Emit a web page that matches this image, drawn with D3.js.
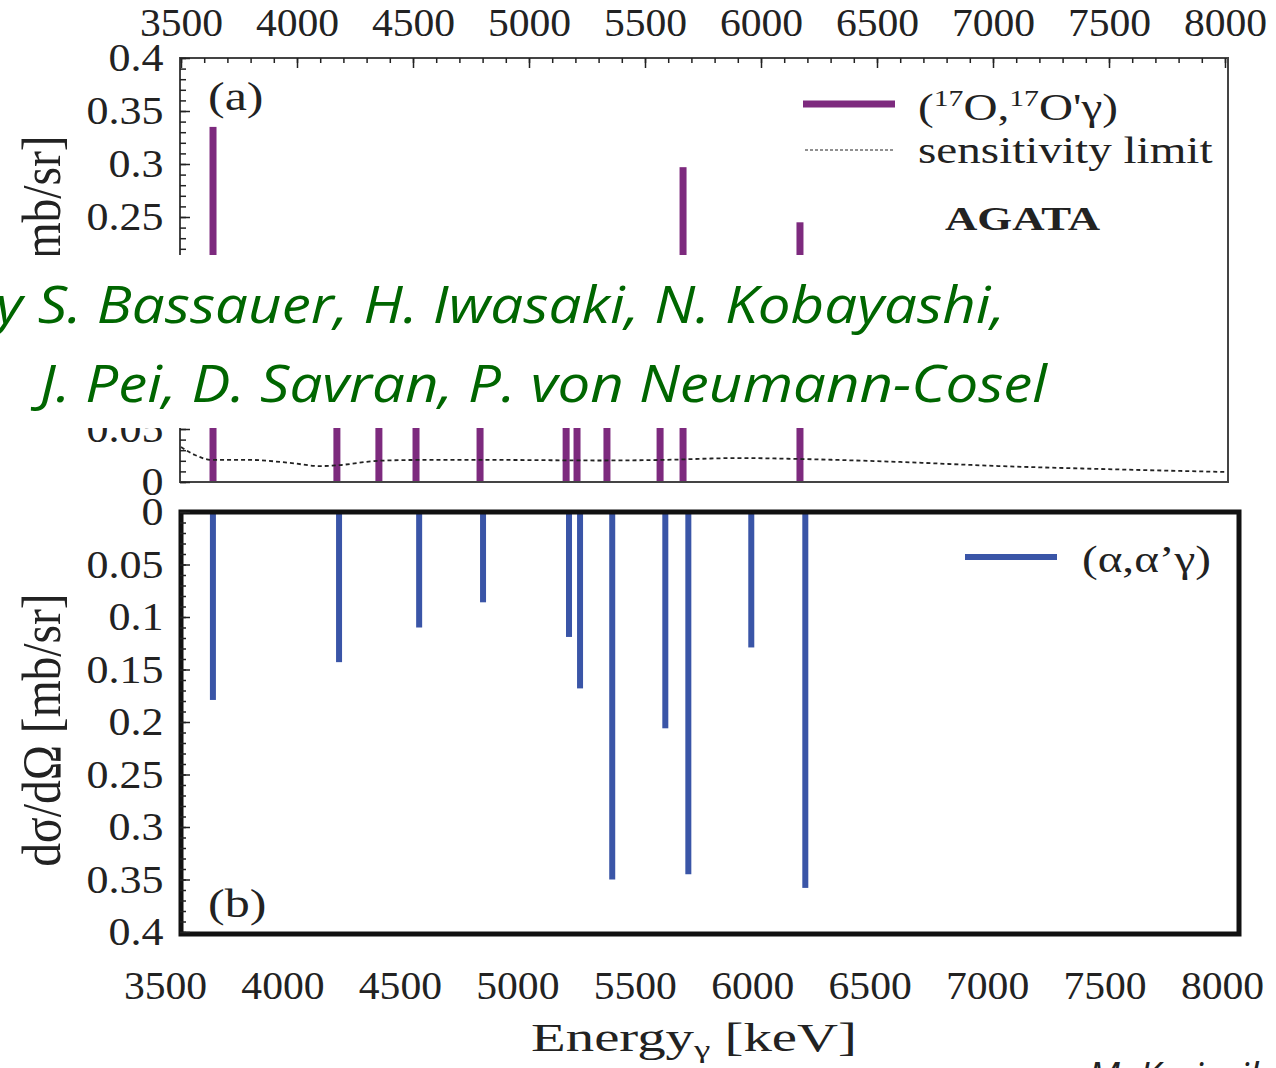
<!DOCTYPE html>
<html>
<head>
<meta charset="utf-8">
<script src="https://cdn.jsdelivr.net/npm/d3@7"></script>
<style>
body{margin:0;background:#fff}
svg{display:block}
.serif{font-family:"Liberation Serif","DejaVu Serif",serif;fill:#222}
.tick text{font-family:"Liberation Serif","DejaVu Serif",serif;fill:#222}
.green{font-family:"Open Sans",Lato,sans-serif;font-style:italic;fill:#006600}
</style>
</head>
<body>
<div id="chart"></div>
<script>
// (17O,17O'g) lines, energies (keV) and cross sections (mb/sr)
const energyTop=[3638,4172,4353,4513,4789,5160,5207,5336,5565,5664,6168]
const sigmaTop=[0.335,0.12,0.10,0.09,0.15,0.08,0.11,0.07,0.13,0.297,0.245]
// sensitivity limit of AGATA
const sensEnergy=[3500,3560,3634,3800,3970,4100,4185,4350,4530,4875,5306,5565,5910,6168,6600,7030,7460,8013]
const sensValue=[0.033,0.0255,0.0208,0.0208,0.018,0.015,0.016,0.020,0.0208,0.0208,0.0203,0.0208,0.0226,0.0217,0.0189,0.015,0.0123,0.0094]
// (a,a'g) lines, energies
const energyBot=[3704,4241,4582,4854,5220,5267,5404,5630,5728,5996,6226]
const sigmaBot=[0.179,0.143,0.110,0.086,0.119,0.168,0.350,0.206,0.345,0.129,0.358]
// ticks
const xTicks=[3500,4000,4500,5000,5500,6000,6500,7000,7500,8000]
const yTicks=[0,0.05,0.1,0.15,0.2,0.25,0.3,0.35,0.4]

const width=1276, height=1068
const purple='#7d2a7e', blue='#3a55a7'

var svg=d3.select('#chart').append('svg').attr('width',width).attr('height',height)

//scales for both panels
let xTop=d3.scaleLinear().domain([3500,8000]).range([181,1225])
let yTop=d3.scaleLinear().domain([0,0.4]).range([482,58])
let xBot=d3.scaleLinear().domain([3500,8000]).range([165,1222])
let yBot=d3.scaleLinear().domain([0,0.4]).range([512,932])

const fmtY=d=>String(+d.toFixed(2))
const fmtX=d3.format('d')

//text that is a bit wider than the font, like in the scanned figure
function wideText(x,y,size,sx){
  return svg.append('g').attr('transform','translate('+x+','+y+') scale('+sx+',1)')
    .append('text').attr('class','serif').attr('font-size',size)
}

/* ---------- panel (a) ---------- */
let panelA=svg.append('g')
panelA.selectAll('rect.bar').data(energyTop).enter().append('rect').attr('class','bar')
  .attr('x',d=>xTop(d)-3.5).attr('width',7)
  .attr('y',(d,i)=>yTop(sigmaTop[i])).attr('height',(d,i)=>yTop(0)-yTop(sigmaTop[i]))
  .attr('fill',purple)

let sensLine=d3.line().x((d,i)=>xTop(d)).y((d,i)=>yTop(sensValue[i])).curve(d3.curveMonotoneX)
panelA.append('path').attr('d',sensLine(sensEnergy)).attr('fill','none')
  .attr('stroke','#222').attr('stroke-width',1.8).attr('stroke-dasharray','4,3')

panelA.append('rect').attr('x',180).attr('y',58).attr('width',1048).attr('height',424)
  .attr('fill','none').attr('stroke','#444').attr('stroke-width',2)

//minor and major ticks, pointing inside
panelA.append('g').attr('transform','translate(0,58)')
  .call(d3.axisTop(xTop).tickValues(d3.range(3500,8001,100)).tickSize(-5).tickFormat(''))
panelA.append('g').attr('class','xlab').attr('transform','translate(0,58)')
  .call(d3.axisTop(xTop).tickValues(xTicks).tickSizeInner(-10).tickSizeOuter(0).tickPadding(22).tickFormat(fmtX))
panelA.append('g').attr('transform','translate(180,0)')
  .call(d3.axisLeft(yTop).tickValues(d3.range(0,0.401,0.01)).tickSize(-6).tickFormat(''))
panelA.append('g').attr('class','ylab').attr('transform','translate(180,0)')
  .call(d3.axisLeft(yTop).tickValues(yTicks).tickSizeInner(-10).tickSizeOuter(0).tickPadding(15).tickFormat(fmtY))

/* ---------- panel (b) ---------- */
let panelB=svg.append('g')
panelB.selectAll('rect.bar').data(energyBot).enter().append('rect').attr('class','bar')
  .attr('x',d=>xBot(d)-3).attr('width',6)
  .attr('y',yBot(0)).attr('height',(d,i)=>yBot(sigmaBot[i])-yBot(0))
  .attr('fill',blue)

panelB.append('rect').attr('x',181).attr('y',512).attr('width',1058).attr('height',422)
  .attr('fill','none').attr('stroke','#111').attr('stroke-width',5)

panelB.append('g').attr('transform','translate(180,0)')
  .call(d3.axisLeft(yBot).tickValues(d3.range(0,0.401,0.01)).tickSize(-6).tickFormat(''))
panelB.append('g').attr('class','ylab').attr('transform','translate(180,0)')
  .call(d3.axisLeft(yBot).tickValues(yTicks).tickSizeInner(-10).tickSizeOuter(0).tickPadding(15).tickFormat(fmtY))
panelB.append('g').attr('class','xlab').attr('transform','translate(0,935)')
  .call(d3.axisBottom(xBot).tickValues(xTicks).tickSize(0).tickPadding(36).tickFormat(fmtX))

svg.selectAll('.domain').remove()
svg.selectAll('.tick line').attr('stroke','#222').attr('stroke-width',1.5)
svg.selectAll('.tick text').attr('font-size',40)
svg.selectAll('.xlab .tick text').attr('transform','scale(1.04,1)')
svg.selectAll('.ylab .tick text').attr('transform','scale(1.1,1)')

/* ---------- labels and legends ---------- */
wideText(208,110,40,1.25).text('(a)')
wideText(208,917,40,1.25).text('(b)')

svg.append('line').attr('x1',803).attr('x2',895).attr('y1',104).attr('y2',104)
  .attr('stroke',purple).attr('stroke-width',7)
let lg=wideText(918,120,38,1.24)
lg.append('tspan').text('(')
lg.append('tspan').attr('font-size',24).attr('dy',-14).text('17')
lg.append('tspan').attr('dy',14).text('O,')
lg.append('tspan').attr('font-size',24).attr('dy',-14).text('17')
lg.append('tspan').attr('dy',14).text("O'γ)")

svg.append('line').attr('x1',805).attr('x2',893).attr('y1',150).attr('y2',150)
  .attr('stroke','#222').attr('stroke-width',1.2).attr('stroke-dasharray','3,2')
wideText(918,163,38,1.24).text('sensitivity limit')
svg.append('text').attr('class','serif').attr('x',945).attr('y',230).attr('font-size',34)
  .attr('font-weight','bold').attr('textLength',155).attr('lengthAdjust','spacingAndGlyphs').text('AGATA')

svg.append('line').attr('x1',965).attr('x2',1057).attr('y1',557).attr('y2',557)
  .attr('stroke',blue).attr('stroke-width',6)
wideText(1082,572,38,1.24).text('(α,α’γ)')

//axis titles
svg.append('text').attr('class','serif').attr('font-size',44).attr('text-anchor','middle')
  .attr('transform','translate(60,272) rotate(-90) scale(1.08,1.25)').text('dσ/dΩ [mb/sr]')
svg.append('text').attr('class','serif').attr('font-size',44).attr('text-anchor','middle')
  .attr('transform','translate(60,730) rotate(-90) scale(1.08,1.25)').text('dσ/dΩ [mb/sr]')
let xt=svg.append('g').attr('transform','translate(694,1051) scale(1.42,1)')
  .append('text').attr('class','serif').attr('font-size',40).attr('text-anchor','middle')
xt.append('tspan').text('Energy')
xt.append('tspan').attr('font-size',26).attr('dy',7).text('γ')
xt.append('tspan').attr('dy',-7).text(' [keV]')

/* ---------- slide overlay ---------- */
svg.append('rect').attr('x',0).attr('y',255).attr('width',1225).attr('height',173).attr('fill','#fff')
svg.append('text').attr('class','green').attr('x',-38).attr('y',323).attr('font-size',52)
  .attr('textLength',1043).attr('lengthAdjust','spacingAndGlyphs')
  .text('by S. Bassauer, H. Iwasaki, N. Kobayashi,')
svg.append('text').attr('class','green').attr('x',40).attr('y',402).attr('font-size',52)
  .attr('textLength',1007).attr('lengthAdjust','spacingAndGlyphs')
  .text('J. Pei, D. Savran, P. von Neumann-Cosel')
svg.append('text').attr('x',1088).attr('y',1090)
  .attr('font-family','"Open Sans", Lato, sans-serif').attr('font-style','italic').attr('font-size',38)
  .attr('fill','#222').text('M. Kmiecik')
</script>
</body>
</html>
